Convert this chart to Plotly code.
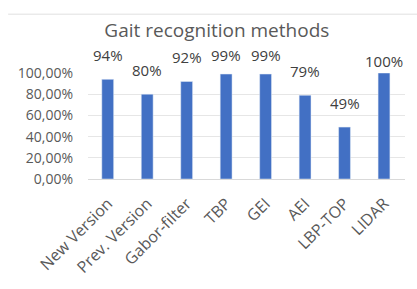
import plotly.graph_objects as go

categories = ["New Version", "Prev. Version", "Gabor-filter", "TBP", "GEI", "AEI", "LBP-TOP", "LIDAR"]
values = [0.94, 0.80, 0.92, 0.99, 0.99, 0.79, 0.49, 1.00]
value_labels = ["94%", "80%", "92%", "99%", "99%", "79%", "49%", "100%"]
tick_vals = [0, 0.2, 0.4, 0.6, 0.8, 1.0]
tick_text = ["0,00%", "20,00%", "40,00%", "60,00%", "80,00%", "100,00%"]

FONT = "Open Sans, Arial"
fig = go.Figure()
fig.add_trace(go.Bar(x=categories, y=values, marker_color="#4270C4", width=0.3))

shifts = [12, 12, 12, 7, 7, 12, 12, 0]
for c, v, t, s in zip(categories, values, value_labels, shifts):
    fig.add_annotation(x=c, y=v, text=t, showarrow=False, yanchor="bottom", yshift=s,
                       font=dict(family=FONT, size=15, color="#404040"))

# faint chart border line at top
fig.add_shape(type="line", xref="paper", yref="paper", x0=-0.252, x1=1.04, y0=1.555, y1=1.555,
              line=dict(color="#e0e0e0", width=1))

fig.update_layout(
    width=417, height=289,
    margin=dict(l=88, r=12, t=73, b=107),
    paper_bgcolor="white", plot_bgcolor="white",
    showlegend=False,
    title=dict(text="Gait recognition methods", x=0.52, xanchor="center", xref="container",
               y=0.895, yanchor="middle", yref="container",
               font=dict(family=FONT, size=19, color="#595959")),
    xaxis=dict(tickangle=-45, tickfont=dict(family=FONT, size=16, color="#595959"),
               showline=True, linecolor="#d9d9d9", showgrid=False, ticks="",
               ticklabelstandoff=8),
    yaxis=dict(range=[0, 1.0], tickvals=tick_vals, ticktext=tick_text,
               tickfont=dict(family=FONT, size=14, color="#595959"),
               gridcolor="#e6e6e6", zeroline=False, ticklabelstandoff=14),
)
fig.write_html("out.html", config={"displayModeBar": False},
               post_script="document.body.style.margin='0';")
